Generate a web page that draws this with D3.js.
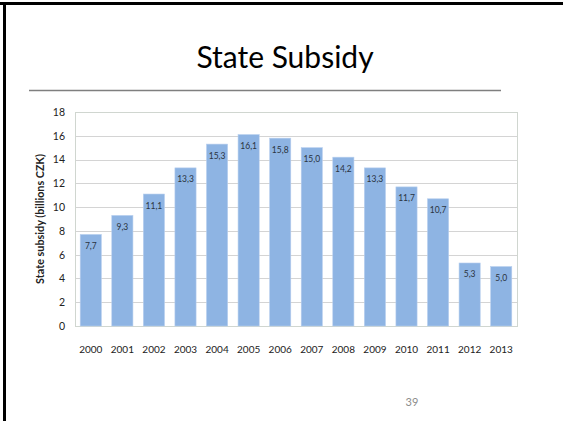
<!DOCTYPE html>
<html>
<head>
<meta charset="utf-8">
<script src="https://cdn.jsdelivr.net/npm/d3@7"></script>
<style>
  body { margin: 0; background: #fff; }
  svg { display: block; font-family: Lato, "Open Sans", sans-serif; }
</style>
</head>
<body>
<div id="chart"></div>
<script>

// chart data
var years = ["2000","2001","2002","2003","2004","2005","2006","2007","2008","2009","2010","2011","2012","2013"]
var subsidy = [7.7, 9.3, 11.1, 13.3, 15.3, 16.1, 15.8, 15.0, 14.2, 13.3, 11.7, 10.7, 5.3, 5.0]
var yTicks = [0, 2, 4, 6, 8, 10, 12, 14, 16, 18]

var width = 563, height = 421

var margin = { top: 112, right: 46, bottom: 95, left: 75 }

var svg = d3.select("#chart")
	.append("svg")
	.attr("width", width)
	.attr("height", height)

// slide frame
svg.append("rect")
	.attr("x", 0).attr("y", 2)
	.attr("width", width).attr("height", 3)
	.attr("fill", "#000")

svg.append("rect")
	.attr("x", 3).attr("y", 2)
	.attr("width", 3).attr("height", height)
	.attr("fill", "#000")

// title
svg.append("text")
	.attr("x", 285)
	.attr("y", 68)
	.attr("text-anchor", "middle")
	.attr("font-size", 30)
	.attr("fill", "#000")
	.text("State Subsidy")

svg.append("line")
	.attr("x1", 29).attr("x2", 501)
	.attr("y1", 90.5).attr("y2", 90.5)
	.attr("stroke", "#7f7f7f")
	.attr("stroke-width", 1.5)

var plotW = width - margin.left - margin.right
var plotH = height - margin.top - margin.bottom

var x = d3.scaleBand()
	.domain(years)
	.range([0, plotW])
	.paddingInner(0.33)
	.paddingOuter(0.165)

var y = d3.scaleLinear()
	.domain([0, 18])
	.range([plotH, 0])

var g = svg.append("g")
	.attr("transform", "translate(" + margin.left + "," + margin.top + ")")

// gridlines
g.selectAll(".grid")
	.data(yTicks)
	.enter()
	.append("line")
	.attr("x1", 0).attr("x2", plotW)
	.attr("y1", function(d) { return Math.round(y(d)) + 0.5 })
	.attr("y2", function(d) { return Math.round(y(d)) + 0.5 })
	.attr("stroke", "#d4d4d4")

g.append("rect")
	.attr("x", 0.5).attr("y", 0.5)
	.attr("width", plotW).attr("height", plotH)
	.attr("fill", "none")
	.attr("stroke", "#d0d6d0")

// bars
g.selectAll(".bar")
	.data(subsidy)
	.enter()
	.append("rect")
	.attr("class", "bar")
	.attr("x", function(d, i) { return x(years[i]) })
	.attr("y", function(d) { return y(d) })
	.attr("width", x.bandwidth())
	.attr("height", function(d) { return plotH - y(d) })
	.attr("fill", "#8eb4e3")
	.attr("stroke", "#b8cfee")
	.attr("stroke-width", 0.6)

g.selectAll(".lbl")
	.data(subsidy)
	.enter()
	.append("text")
	.attr("x", function(d, i) { return x(years[i]) + x.bandwidth() / 2 })
	.attr("y", function(d) { return y(d) + 14.5 })
	.attr("text-anchor", "middle")
	.attr("font-size", 8.5)
	.attr("fill", "#2a3340")
	.text(function(d) { return d.toFixed(1).replace(".", ",") })

// axes
var yAxis = d3.axisLeft(y).tickValues(yTicks).tickSize(0).tickPadding(10)

g.append("g")
	.call(yAxis)
	.call(function(s) { s.select(".domain").remove() })
	.selectAll("text")
	.attr("font-size", 10.5)
	.attr("font-family", "Lato, sans-serif")
	.attr("fill", "#222")

var xAxis = d3.axisBottom(x).tickSize(0).tickPadding(20)

g.append("g")
	.attr("transform", "translate(0," + plotH + ")")
	.call(xAxis)
	.call(function(s) { s.select(".domain").remove() })
	.selectAll("text")
	.attr("font-size", 10)
	.attr("font-family", "Lato, sans-serif")
	.attr("fill", "#222")

svg.append("text")
	.attr("transform", "translate(44," + (margin.top + plotH / 2) + ") rotate(-90)")
	.attr("text-anchor", "middle")
	.attr("font-size", 10.8)
	.attr("font-weight", "bold")
	.attr("fill", "#222")
	.text("State subsidy (billions CZK)")

// page number
svg.append("text")
	.attr("x", 412)
	.attr("y", 406)
	.attr("text-anchor", "middle")
	.attr("font-size", 11)
	.attr("fill", "#8c8c8c")
	.text("39")

</script>
</body>
</html>
